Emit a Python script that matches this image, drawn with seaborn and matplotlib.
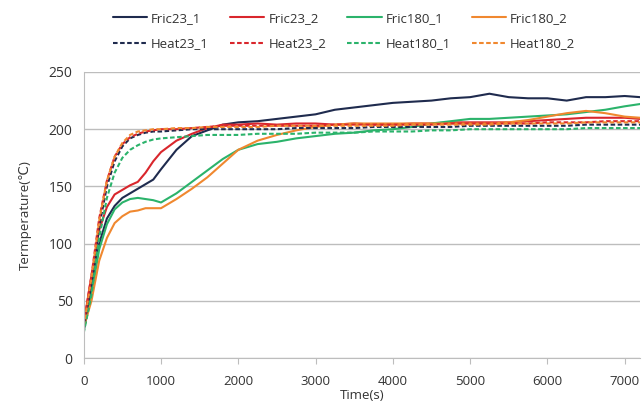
import matplotlib
matplotlib.use("Agg")
import matplotlib.pyplot as plt
import seaborn as sns
import pandas as pd

time_s = [0, 100, 200, 300, 400, 500, 600, 700, 800, 900, 1000, 1200, 1400, 1600,
          1800, 2000, 2250, 2500, 2750, 3000, 3250, 3500, 3750, 4000, 4250, 4500,
          4750, 5000, 5250, 5500, 5750, 6000, 6250, 6500, 6750, 7000, 7200]

fric23_1 = [24, 60, 100, 122, 133, 140, 144, 148, 152, 156, 165, 182, 194, 199,
            204, 206, 207, 209, 211, 213, 217, 219, 221, 223, 224, 225,
            227, 228, 231, 228, 227, 227, 225, 228, 228, 229, 228]
fric23_2 = [30, 72, 112, 132, 143, 147, 151, 154, 162, 172, 180, 190, 196, 201,
            204, 204, 205, 204, 205, 205, 204, 205, 204, 204, 205, 205,
            206, 206, 206, 206, 207, 208, 209, 210, 210, 210, 209]
fric180_1 = [25, 55, 95, 117, 130, 136, 139, 140, 139, 138, 136, 144, 154, 164,
             174, 182, 187, 189, 192, 194, 196, 197, 199, 200, 202, 205,
             207, 209, 209, 210, 211, 212, 213, 215, 217, 220, 222]
fric180_2 = [27, 50, 85, 105, 118, 124, 128, 129, 131, 131, 131, 139, 148, 158,
             170, 182, 190, 195, 199, 202, 204, 205, 205, 205, 205, 205,
             205, 205, 205, 206, 208, 211, 214, 216, 214, 211, 210]
heat23_1 = [26, 65, 115, 150, 172, 185, 192, 195, 197, 198, 198, 199, 200, 200,
            200, 200, 200, 200, 201, 201, 201, 201, 202, 202, 202, 202,
            202, 203, 203, 203, 203, 203, 203, 204, 204, 204, 204]
heat23_2 = [30, 72, 122, 155, 176, 187, 193, 196, 198, 199, 200, 200, 201, 202,
            203, 203, 203, 203, 203, 203, 204, 204, 204, 204, 204, 204,
            205, 205, 205, 205, 205, 206, 206, 206, 207, 207, 207]
heat180_1 = [22, 55, 105, 140, 162, 175, 182, 186, 189, 191, 192, 193, 194, 195,
             195, 195, 196, 196, 196, 197, 197, 197, 198, 198, 198, 199,
             199, 200, 200, 200, 200, 200, 200, 201, 201, 201, 201]
heat180_2 = [28, 70, 120, 155, 176, 188, 195, 198, 199, 200, 200, 201, 201, 202,
             202, 202, 202, 203, 203, 203, 203, 203, 203, 203, 204, 204,
             204, 204, 204, 205, 205, 205, 205, 206, 206, 206, 206]

series_names = ["Fric23_1", "Fric23_2", "Fric180_1", "Fric180_2",
                "Heat23_1", "Heat23_2", "Heat180_1", "Heat180_2"]
series_values = [fric23_1, fric23_2, fric180_1, fric180_2,
                 heat23_1, heat23_2, heat180_1, heat180_2]

colors = {"23_1": "#1f2b4e", "23_2": "#d9262c", "180_1": "#2bb36b", "180_2": "#f0882f"}

rows = []
for name, vals in zip(series_names, series_values):
    for t, v in zip(time_s, vals):
        rows.append({"Time": t, "Temp": v, "Series": name})
df = pd.DataFrame(rows)

sns.set_style("white")
plt.rcParams['font.family'] = ['Open Sans', 'DejaVu Sans']

fig = plt.figure(figsize=(6.44, 4.16), dpi=100)
ax = fig.add_axes([0.130, 0.139, 0.864, 0.688])

handles = {}
for name in series_names:
    key = name.split("Fric")[-1].split("Heat")[-1]
    ls = "-" if name.startswith("Fric") else (0, (2.2, 1.2))
    sub = df[df["Series"] == name]
    sns.lineplot(data=sub, x="Time", y="Temp", ax=ax, color=colors[key],
                 linestyle=ls, linewidth=1.5, label=name, legend=False)
    handles[name] = ax.lines[-1]

ax.set_xlim(0, 7200)
ax.set_ylim(0, 250)
ax.set_xticks(range(0, 8000, 1000))
ax.set_yticks(range(0, 300, 50))
ax.yaxis.grid(True, color="#bdbdbd", linewidth=1)
ax.xaxis.grid(False)
for s in ["top", "right"]:
    ax.spines[s].set_visible(False)
ax.spines["left"].set_color("#bdbdbd")
ax.spines["bottom"].set_color("#bdbdbd")
ax.tick_params(axis="x", which="both", bottom=True, length=4, color="#bdbdbd",
               labelsize=9.5, labelcolor="#333333", pad=8)
ax.tick_params(axis="y", length=0, labelsize=10, labelcolor="#333333", pad=8)
ax.set_xlabel("Time(s)", fontsize=9.5, color="#333333", labelpad=1)
ax.set_ylabel("Termperature(\u2103)", fontsize=9.5, color="#333333", labelpad=12)

order = ["Fric23_1", "Heat23_1", "Fric23_2", "Heat23_2",
         "Fric180_1", "Heat180_1", "Fric180_2", "Heat180_2"]
leg = ax.legend([handles[n] for n in order], order, ncol=4, frameon=False,
                loc="lower center", bbox_to_anchor=(0.468, 1.057), fontsize=9.5,
                handlelength=2.6, handletextpad=0.3, columnspacing=1.6,
                labelspacing=0.95, borderaxespad=0)
for t in leg.get_texts():
    t.set_color("#333333")

fig.savefig("out.png", dpi=100)
